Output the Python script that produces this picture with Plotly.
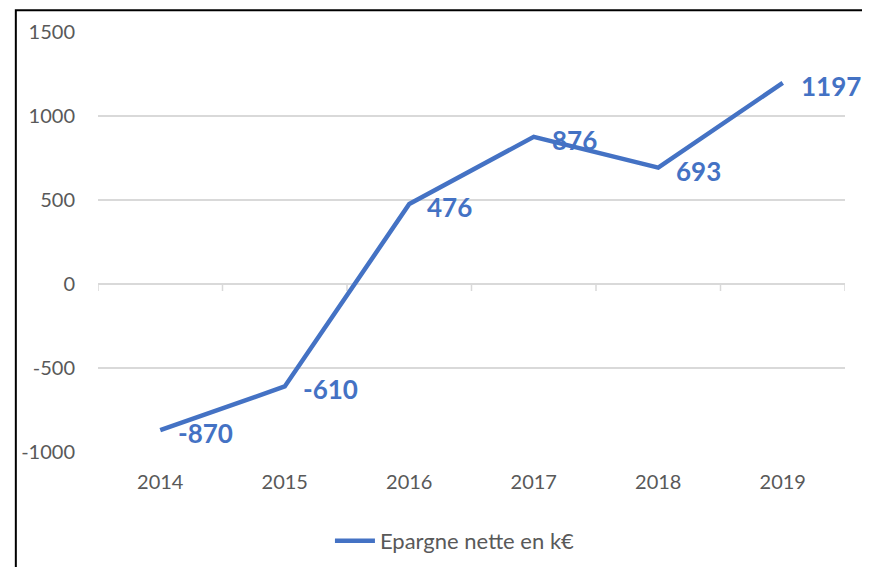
import plotly.graph_objects as go

YEARS = ["2014", "2015", "2016", "2017", "2018", "2019"]
EPARGNE = [-870, -610, 476, 876, 693, 1197]
SERIES_NAME = "Epargne nette en k€"
Y_TICKS = [-1000, -500, 0, 500, 1000, 1500]
Y_TICK_TEXT = ["-1000", "-500", "0", "500", "1000", "1500"]

BLUE = "#4472C4"
GREY_TEXT = "#595959"
GRID = "#D9D9D9"
FONT = "Lato, 'Open Sans', sans-serif"

fig = go.Figure()
fig.add_trace(
    go.Scatter(
        x=YEARS,
        y=EPARGNE,
        mode="lines",
        name=SERIES_NAME,
        line=dict(color=BLUE, width=4.5),
    )
)

# data labels, placed to the right of each point
# (category index used for x: numeric-looking category names are read as indices)
for i, val in enumerate(EPARGNE):
    fig.add_annotation(
        x=i, y=val,
        text=str(val),
        showarrow=False,
        xanchor="left", yanchor="middle",
        xshift=16, yshift=-3,
        font=dict(family=FONT, size=26, color=BLUE, weight="bold"),
    )

# small tick marks below the zero line, at category boundaries
for i in range(len(YEARS) + 1):
    fig.add_shape(
        type="line",
        xref="x", yref="y",
        xsizemode="scaled", ysizemode="pixel",
        x0=i - 0.5, x1=i - 0.5,
        yanchor=0, y0=0, y1=-7,
        line=dict(color=GRID, width=1.5),
        layer="below",
    )

# outer chart border (cropped)
fig.add_shape(
    type="rect", xref="paper", yref="paper",
    x0=-0.110, x1=1.5, y0=-0.6, y1=1.052,
    line=dict(color="black", width=2),
)

# figure sized so page margins + figure fit the window without scrollbars
fig.update_layout(
    width=854,
    height=559,
    margin=dict(l=90, r=17, t=24, b=115),
    paper_bgcolor="white",
    plot_bgcolor="white",
    font=dict(family=FONT, color=GREY_TEXT),
    xaxis=dict(
        type="category",
        range=[-0.5, 5.5],
        showgrid=False,
        showline=False,
        ticks="",
        tickfont=dict(size=20, color=GREY_TEXT),
        ticklabelstandoff=16,
        automargin=False,
    ),
    yaxis=dict(
        range=[-1000, 1500],
        tickvals=Y_TICKS,
        ticktext=Y_TICK_TEXT,
        showgrid=True,
        gridcolor=GRID,
        gridwidth=1.5,
        zeroline=True,
        zerolinecolor=GRID,
        zerolinewidth=1.5,
        showline=False,
        tickfont=dict(size=20, color=GREY_TEXT),
        ticklabelstandoff=22,
        automargin=False,
    ),
    showlegend=True,
    legend=dict(
        orientation="h",
        x=0.3105, xanchor="left",
        yref="container",
        y=0.0465, yanchor="middle",
        font=dict(size=22, color=GREY_TEXT),
        itemwidth=40,
    ),
)

fig.write_html("out.html")
